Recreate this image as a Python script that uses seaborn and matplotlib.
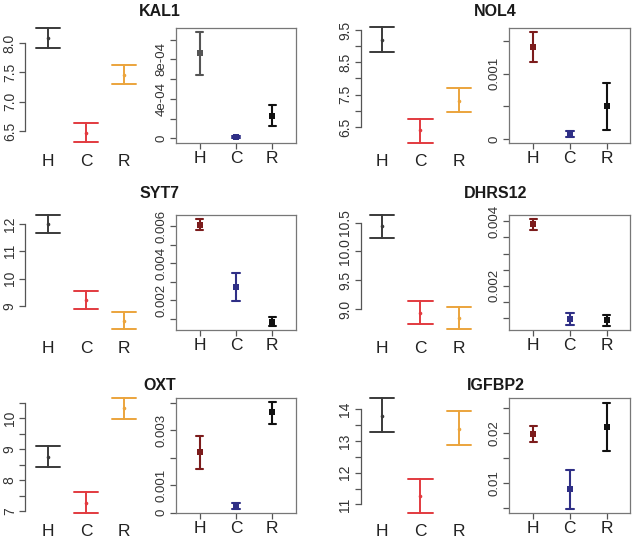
import numpy as np
import pandas as pd
import matplotlib
matplotlib.use("Agg")
import matplotlib.pyplot as plt
import seaborn as sns

groups = ["H", "C", "R"]
genes = ["KAL1", "NOL4", "SYT7", "DHRS12", "OXT", "IGFBP2"]

# ── left panels: expression (mean with low / high limits) ────────────────────
expr_mean = {
    "KAL1":   [8.09, 6.46, 7.46],
    "NOL4":   [9.19, 6.40, 7.31],
    "SYT7":   [12.00, 9.22, 8.45],
    "DHRS12": [10.44, 8.94, 8.84],
    "OXT":    [8.74, 7.27, 10.32],
    "IGFBP2": [13.79, 11.26, 13.38],
}
expr_low = {
    "KAL1":   [7.92, 6.32, 7.31],
    "NOL4":   [8.83, 6.00, 6.95],
    "SYT7":   [11.67, 8.88, 8.15],
    "DHRS12": [10.23, 8.75, 8.65],
    "OXT":    [8.43, 6.94, 9.98],
    "IGFBP2": [13.28, 10.74, 12.86],
}
expr_high = {
    "KAL1":   [8.26, 6.64, 7.63],
    "NOL4":   [9.58, 6.76, 7.69],
    "SYT7":   [12.33, 9.55, 8.79],
    "DHRS12": [10.63, 9.14, 9.03],
    "OXT":    [9.09, 7.62, 10.65],
    "IGFBP2": [14.34, 11.79, 13.94],
}

# ── right panels: relative quantity (mean with low / high limits) ────────────
rq_mean = {
    "KAL1":   [8.6e-4, 1e-5, 2.28e-4],
    "NOL4":   [1.41e-3, 6e-5, 5.0e-4],
    "SYT7":   [6.07e-3, 2.72e-3, 8.3e-4],
    "DHRS12": [3.92e-3, 9.6e-4, 9.3e-4],
    "OXT":    [2.2e-3, 2.4e-4, 3.66e-3],
    "IGFBP2": [0.0199, 0.0088, 0.0213],
}
rq_low = {
    "KAL1":   [6.38e-4, 0.0, 1.25e-4],
    "NOL4":   [1.18e-3, 2.5e-5, 1.38e-4],
    "SYT7":   [5.77e-3, 1.95e-3, 6.1e-4],
    "DHRS12": [3.74e-3, 7.8e-4, 7.5e-4],
    "OXT":    [1.61e-3, 1.5e-4, 3.25e-3],
    "IGFBP2": [0.0182, 0.0049, 0.0165],
}
rq_high = {
    "KAL1":   [1.08e-3, 2e-5, 3.4e-4],
    "NOL4":   [1.64e-3, 1.3e-4, 8.55e-4],
    "SYT7":   [6.37e-3, 3.45e-3, 1.10e-3],
    "DHRS12": [4.07e-3, 1.16e-3, 1.08e-3],
    "OXT":    [2.78e-3, 3.7e-4, 4.02e-3],
    "IGFBP2": [0.0215, 0.0127, 0.0261],
}

# axis ticks / labels
left_ticks = {
    "KAL1":   ([6.5, 7.0, 7.5, 8.0], ["6.5", "7.0", "7.5", "8.0"]),
    "NOL4":   ([6.5, 7.0, 7.5, 8.0, 8.5, 9.0, 9.5], ["6.5", "", "7.5", "", "8.5", "", "9.5"]),
    "SYT7":   ([9, 10, 11, 12], ["9", "10", "11", "12"]),
    "DHRS12": ([9.0, 9.5, 10.0, 10.5], ["9.0", "9.5", "10.0", "10.5"]),
    "OXT":    ([7, 7.5, 8, 8.5, 9, 9.5, 10, 10.5], ["7", "", "8", "", "9", "", "10", ""]),
    "IGFBP2": ([11, 11.5, 12, 12.5, 13, 13.5, 14], ["11", "", "12", "", "13", "", "14"]),
}
right_ticks = {
    "KAL1":   ([0, 2e-4, 4e-4, 6e-4, 8e-4, 1e-3], ["0", "", "4e-04", "", "8e-04", ""]),
    "NOL4":   ([0, 5e-4, 1e-3, 1.5e-3], ["0", "", "0.001", ""]),
    "SYT7":   ([1e-3, 2e-3, 3e-3, 4e-3, 5e-3, 6e-3], ["", "0.002", "", "0.004", "", "0.006"]),
    "DHRS12": ([1e-3, 1.5e-3, 2e-3, 2.5e-3, 3e-3, 3.5e-3, 4e-3], ["", "", "0.002", "", "", "", "0.004"]),
    "OXT":    ([0, 1e-3, 2e-3, 3e-3, 4e-3], ["0", "0.001", "", "0.003", ""]),
    "IGFBP2": ([0.005, 0.01, 0.015, 0.02, 0.025], ["", "0.01", "", "0.02", ""]),
}

left_ylim = {
    "KAL1": (6.177, 8.392), "NOL4": (5.785, 9.81), "SYT7": (7.86, 12.62),
    "DHRS12": (8.516, 10.77), "OXT": (6.709, 10.916), "IGFBP2": (10.51, 14.6),
}
right_ylim = {
    "KAL1": (-4.8e-5, 1.117e-3), "NOL4": (-6e-5, 1.70e-3), "SYT7": (3.8e-4, 6.6e-3),
    "DHRS12": (6.2e-4, 4.2e-3), "OXT": (-1e-5, 4.18e-3), "IGFBP2": (4.1e-3, 0.027),
}

left_pal = {"H": "#3a3a3a", "C": "#e23a3f", "R": "#eba43c"}
right_pal = {"H": "#7c1c1c", "C": "#2f2f86", "R": "#111111"}

sns.set_theme(style="white")
plt.rcParams["font.family"] = ["Liberation Sans", "DejaVu Sans"]

W, H = 635, 543
fig = plt.figure(figsize=(W / 100, H / 100), dpi=100)


def px_axes(left, top, width, height):
    return fig.add_axes([left / W, 1 - (top + height) / H, width / W, height / H])


def long_frame(low, mean, high):
    return pd.DataFrame({"group": groups * 3, "value": list(low) + list(mean) + list(high)})


def span(v):
    return (v.min(), v.max())


# pixel layout: (left panel left, width, xlim), (right panel left, width, xlim)
col_layout = [
    ((25.2, 121.6, (-0.6, 2.6)), (176, 120, (-0.65, 2.65))),
    ((360.8, 121.3, (-0.55, 2.6)), (509, 121, (-0.66, 2.64))),
]
row_tops = [28, 215, 398]
title_x = [160, 495.5]
title_y = [12, 193, 385]

for i, gene in enumerate(genes):
    r, c = divmod(i, 2)
    (ll, lw, lxlim), (rl, rw, rxlim) = col_layout[c]
    top = row_tops[r]

    # ── left panel ──
    axl = px_axes(ll, top - 8, lw, 130)
    sns.pointplot(data=long_frame(expr_low[gene], expr_mean[gene], expr_high[gene]),
                  x="group", y="value", hue="group", order=groups, hue_order=groups,
                  palette=left_pal, estimator="median", errorbar=span,
                  capsize=0.63, markers="o", linestyle="none", markersize=2.6,
                  markeredgewidth=0, err_kws={"linewidth": 1.4}, legend=False, ax=axl)
    axl.set_xlim(*lxlim)
    axl.set_ylim(*left_ylim[gene])
    yt, yl = left_ticks[gene]
    axl.set_yticks(yt)
    axl.set_yticklabels(yl)
    for s in ["top", "right", "bottom"]:
        axl.spines[s].set_visible(False)
    axl.spines["left"].set_bounds(yt[0], yt[-1])
    axl.spines["left"].set_color("#555555")
    axl.spines["left"].set_linewidth(0.9)
    axl.tick_params(axis="y", left=True, length=4, width=0.9, color="#555555",
                    labelsize=10, labelrotation=90, pad=2, labelcolor="#333333")
    axl.tick_params(axis="x", bottom=False, length=0, labelsize=12.5, pad=3,
                    labelcolor="#222222")
    for lab in axl.get_yticklabels():
        lab.set_va("center")
    axl.set_xlabel("")
    axl.set_ylabel("")
    axl.patch.set_alpha(0)

    # ── right panel ──
    pal = dict(right_pal)
    if gene == "KAL1":
        pal["H"] = "#555555"
    axr = px_axes(rl, top, rw, 115)
    sns.pointplot(data=long_frame(rq_low[gene], rq_mean[gene], rq_high[gene]),
                  x="group", y="value", hue="group", order=groups, hue_order=groups,
                  palette=pal, estimator="median", errorbar=span,
                  capsize=0.2, markers="s", linestyle="none", markersize=4.2,
                  markeredgewidth=0, err_kws={"linewidth": 1.5}, legend=False, ax=axr)
    axr.set_xlim(*rxlim)
    axr.set_ylim(*right_ylim[gene])
    yt, yl = right_ticks[gene]
    axr.set_yticks(yt)
    axr.set_yticklabels(yl)
    for s in axr.spines.values():
        s.set_visible(True)
        s.set_color("#777777")
        s.set_linewidth(0.9)
    axr.tick_params(axis="y", left=True, length=4, width=0.9, color="#555555",
                    labelsize=9.5, labelrotation=90, pad=2, labelcolor="#333333")
    axr.tick_params(axis="x", bottom=True, length=4, width=0.9, color="#555555",
                    labelsize=12.5, pad=2, labelcolor="#222222")
    for lab in axr.get_yticklabels():
        lab.set_va("center")
    axr.set_xlabel("")
    axr.set_ylabel("")

    fig.text(title_x[c] / W, 1 - title_y[r] / H, gene, ha="center", va="center",
             fontsize=11.5, fontweight="bold", color="#1a1a1a")

fig.savefig("out.png", dpi=100, facecolor="white")
